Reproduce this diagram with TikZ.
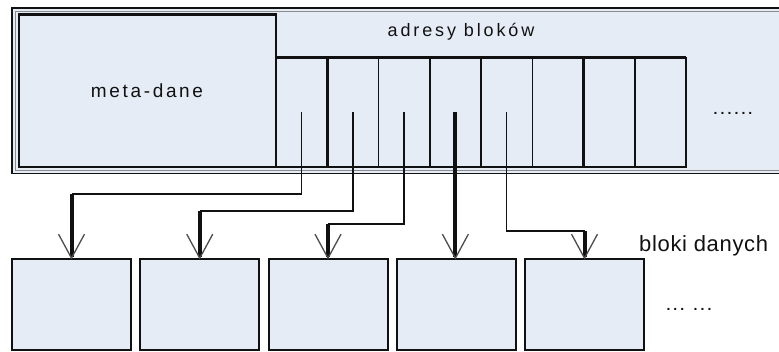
\documentclass[tikz,border=0pt]{standalone}
\usepackage{fontspec}
\setmainfont{Liberation Sans}
\newfontfamily\wideA[LetterSpace=14]{Liberation Sans}
\newfontfamily\wideB[LetterSpace=16]{Liberation Sans}
\newfontfamily\wideC[LetterSpace=3]{Liberation Sans}
\newfontfamily\wideD[LetterSpace=22]{Liberation Sans}
\usetikzlibrary{arrows.meta}
\definecolor{boxfill}{RGB}{230,236,246}
\definecolor{ink}{RGB}{17,17,17}
\tikzset{
  metabox/.style={draw=ink, fill=boxfill, line width=2pt, minimum width=257pt,
    minimum height=152.5pt, inner sep=0pt, outer sep=0pt},
  cell/.style={draw=ink, line width=1.5pt, minimum width=51.25pt,
    minimum height=109pt, inner sep=0pt, outer sep=0pt, anchor=north west},
  datablock/.style={draw=ink, fill=boxfill, line width=2pt, minimum width=119pt,
    minimum height=90.5pt, inner sep=0pt, outer sep=0pt, anchor=north west},
  label/.style={text=ink, inner sep=0pt},
  ptrthin/.style={draw=ink, line width=1.5pt},
  ptrthick/.style={draw=ink, line width=4pt,
    -{Straight Barb[length=24pt,width=26pt,line width=1.3pt,color=black!70]}},
}
\begin{document}
\begin{tikzpicture}[x=1pt,y=-1pt]
\clip (0,0) rectangle (779,352);
\fill[white] (0,0) rectangle (779,352);

% i-node frame (double border, runs off the right side)
\draw[ink, fill=boxfill, line width=1.3pt] (12,8) rectangle (800,173.5);
\draw[black!45, line width=0.8pt] (15.5,11.5) rectangle (800,170);

% metadata part
\node[metabox] (meta) at (147,90.75) {};
\draw[ink, line width=3.5pt] (meta.north west) -- (meta.north east);
\node[label, font=\wideA\fontsize{19}{22}\selectfont] (metatxt) at (meta.center) {meta-dane};

% block address table
\node[label, font=\wideB\fontsize{18}{21}\selectfont] (adr) at (461,32) {adresy bloków};
\foreach \i in {1,...,8}
  \node[cell] (c\i) at ({276+51.25*(\i-1)},58) {};
\draw[ink, line width=3pt] (c1.north west) -- (c8.north east);
\draw[ink, line width=3.5pt] (c1.north east) -- (c1.south east);
\draw[ink, line width=3.5pt] (c6.north east) -- (c6.south east);
\node[label, anchor=base, font=\wideD\bfseries\fontsize{14}{16}\selectfont] (moreaddr) at (733,115) {......};

% data blocks
\foreach \i in {1,...,5}
  \node[datablock] (b\i) at ({12+128.25*(\i-1)},259.5) {};
\node[label, anchor=base west, font=\wideC\fontsize{22}{26}\selectfont] (blk) at (639,252) {bloki danych};
\node[label, anchor=base, font=\wideD\bfseries\fontsize{14}{16}\selectfont] (moreblk) at (689,311) {... ...};

% pointers from the address cells to the data blocks
\coordinate (k1) at (b1.north |- 0,194);
\coordinate (k2) at (b2.north |- 0,211);
\coordinate (k3) at (b3.north |- 0,224);
\coordinate (k5) at (b5.north |- 0,231);
\draw[ptrthin] (c1.center) |- (k1);
\draw[ptrthin] (c2.center) |- (k2);
\draw[ptrthin] (c3.center) |- (k3);
\draw[ptrthin] (c5.center) |- (k5);
\draw[ptrthick] (k1) -- (b1.north);
\draw[ptrthick] (k2) -- (b2.north);
\draw[ptrthick] (k3) -- (b3.north);
\draw[ptrthick] (c4.center) -- (c4.center |- b4.north);
\draw[ptrthick] (k5) -- (b5.north);
\end{tikzpicture}
\end{document}
